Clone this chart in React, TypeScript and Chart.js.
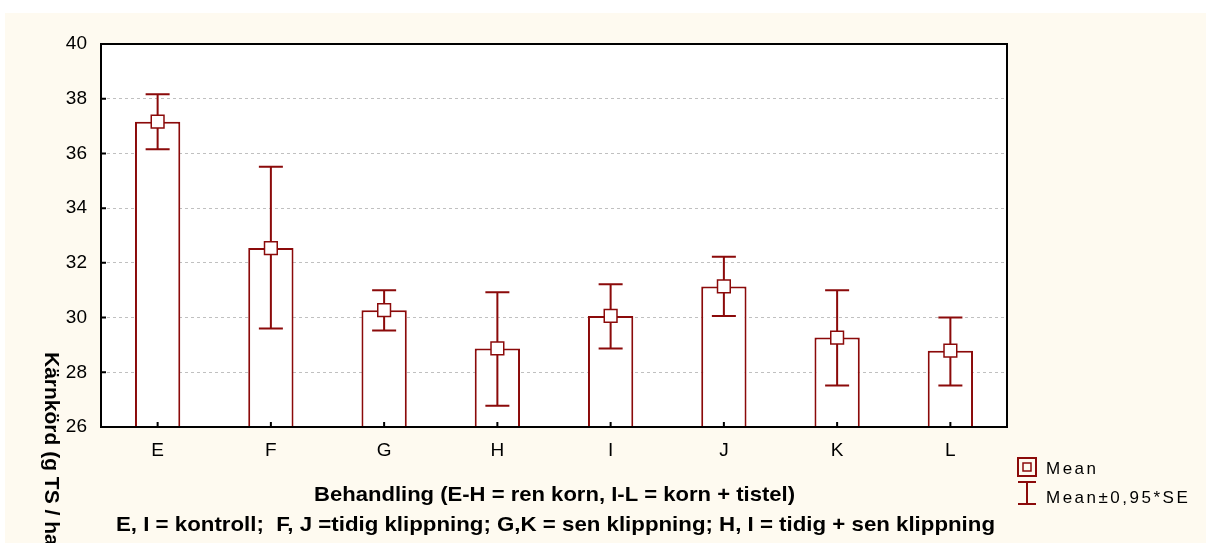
import React, { useEffect, useRef } from "react";
import { Chart, registerables } from "chart.js";

Chart.register(...registerables);

const categories = ["E", "F", "G", "H", "I", "J", "K", "L"];
const means = [37.16, 32.54, 30.27, 28.87, 30.06, 31.14, 29.27, 28.79];
const upper = [38.16, 35.51, 31.0, 30.93, 31.22, 32.22, 31.0, 30.0];
const lower = [36.15, 29.6, 29.53, 26.78, 28.87, 30.06, 27.52, 27.52];
const yMin = 26;
const yMax = 40;
const yStep = 2;

const yTitle = "Kärnkörd (g TS / ha)";
const xTitle1 = "Behandling (E-H = ren korn, I-L = korn + tistel)";
const xTitle2 =
  "E, I = kontroll;  F, J =tidig klippning; G,K = sen klippning; H, I = tidig + sen klippning";
const legendMean = "Mean";
const legendErr = "Mean±0,95*SE";

const RED = "#8b0a0a";
const CREAM = "#fefaf0";
const FONT = "'Liberation Sans', Arial, sans-serif";

const customPlugin = {
  id: "custom",
  beforeDraw(chart: any) {
    const { ctx, chartArea } = chart;
    ctx.save();
    ctx.fillStyle = "#ffffff";
    ctx.fillRect(0, 0, chart.width, chart.height);
    ctx.fillStyle = CREAM;
    ctx.fillRect(5, 13, chart.width - 5, chart.height - 13);
    ctx.fillStyle = "#ffffff";
    ctx.fillRect(chartArea.left, chartArea.top, chartArea.right - chartArea.left, chartArea.bottom - chartArea.top);
    ctx.restore();
  },
  afterDatasetDraw(chart: any, args: any) {
    if (args.meta.type !== "bar") return;
    const { ctx } = chart;
    const xs = chart.scales.x;
    const ys = chart.scales.y;
    ctx.save();
    ctx.strokeStyle = RED;
    ctx.lineWidth = 2;
    categories.forEach((_, i) => {
      const x = xs.getPixelForValue(i);
      const yu = ys.getPixelForValue(upper[i]);
      const yl = ys.getPixelForValue(lower[i]);
      ctx.beginPath();
      ctx.moveTo(x, yu);
      ctx.lineTo(x, yl);
      ctx.moveTo(x - 12, yu);
      ctx.lineTo(x + 12, yu);
      ctx.moveTo(x - 12, yl);
      ctx.lineTo(x + 12, yl);
      ctx.stroke();
    });
    ctx.restore();
  },
  afterDraw(chart: any) {
    const { ctx, chartArea } = chart;
    const xs = chart.scales.x;
    const ys = chart.scales.y;
    ctx.save();
    // plot box
    ctx.strokeStyle = "#000";
    ctx.lineWidth = 2;
    ctx.strokeRect(chartArea.left, chartArea.top, chartArea.right - chartArea.left, chartArea.bottom - chartArea.top);
    // inward ticks
    ctx.beginPath();
    ys.ticks.forEach((t: any) => {
      const y = ys.getPixelForValue(t.value);
      ctx.moveTo(chartArea.left, y);
      ctx.lineTo(chartArea.left + 5, y);
    });
    categories.forEach((_, i) => {
      const x = xs.getPixelForValue(i);
      ctx.moveTo(x, chartArea.bottom);
      ctx.lineTo(x, chartArea.bottom - 5);
    });
    ctx.stroke();

    // y title (rotated clockwise)
    ctx.fillStyle = "#000";
    ctx.font = `bold 21px ${FONT}`;
    ctx.save();
    ctx.translate(45, 352);
    ctx.rotate(Math.PI / 2);
    ctx.textAlign = "left";
    ctx.textBaseline = "alphabetic";
    ctx.fillText(yTitle, 0, 0);
    ctx.restore();

    // x titles
    const drawFit = (text: string, cx: number, cy: number, w: number) => {
      ctx.save();
      ctx.font = `bold 21px ${FONT}`;
      const m = ctx.measureText(text).width;
      const s = w / m;
      ctx.translate(cx, cy);
      ctx.scale(s, 1);
      ctx.textAlign = "center";
      ctx.textBaseline = "middle";
      ctx.fillText(text, 0, 0);
      ctx.restore();
    };
    drawFit(xTitle1, 554.5, 495, 481);
    drawFit(xTitle2, 555.5, 525, 879);

    // legend
    ctx.strokeStyle = RED;
    ctx.lineWidth = 2;
    ctx.strokeRect(1018, 458, 18, 18);
    ctx.lineWidth = 1.5;
    ctx.strokeRect(1023, 463, 8, 8);
    ctx.lineWidth = 2;
    ctx.beginPath();
    ctx.moveTo(1018, 482);
    ctx.lineTo(1036, 482);
    ctx.moveTo(1027, 482);
    ctx.lineTo(1027, 504);
    ctx.moveTo(1018, 504);
    ctx.lineTo(1036, 504);
    ctx.stroke();
    ctx.fillStyle = "#000";
    ctx.font = `17px ${FONT}`;
    ctx.textAlign = "left";
    ctx.textBaseline = "alphabetic";
    (ctx as any).letterSpacing = "2.5px";
    ctx.fillText(legendMean, 1046, 474);
    ctx.fillText(legendErr, 1046, 503);
    (ctx as any).letterSpacing = "0px";
    ctx.restore();
  },
};

export default function App() {
  const ref = useRef<HTMLCanvasElement>(null);
  useEffect(() => {
    if (!ref.current) return;
    const chart = new Chart(ref.current, {
      type: "bar",
      data: {
        labels: categories,
        datasets: [
          {
            type: "line",
            label: "Mean",
            data: means,
            showLine: false,
            pointStyle: "rect",
            pointRadius: 9,
            pointHoverRadius: 9,
            pointBackgroundColor: "#ffffff",
            pointBorderColor: RED,
            pointBorderWidth: 1.5,
            order: 0,
          } as any,
          {
            type: "bar",
            label: "Bars",
            data: means,
            base: yMin,
            backgroundColor: "#ffffff",
            borderColor: RED,
            borderWidth: 2,
            barPercentage: 0.4,
            categoryPercentage: 1,
            order: 1,
          } as any,
        ],
      },
      options: {
        responsive: false,
        animation: false,
        events: [],
        layout: { padding: { top: 44, right: 199, left: 0, bottom: 0 } },
        plugins: { legend: { display: false }, tooltip: { enabled: false } },
        scales: {
          x: {
            offset: true,
            grid: { display: false, drawTicks: false },
            border: { display: false },
            ticks: { color: "#000", font: { family: FONT, size: 19 }, padding: 12 },
            afterFit: (s: any) => {
              s.height = 116;
            },
          },
          y: {
            min: yMin,
            max: yMax,
            grid: { color: "#c0c0c0", lineWidth: 1, drawTicks: false },
            border: { display: false, dash: [3, 3] },
            ticks: { stepSize: yStep, color: "#000", font: { family: FONT, size: 19 }, padding: 14 },
            afterFit: (s: any) => {
              s.width = 101;
            },
          },
        },
      } as any,
      plugins: [customPlugin],
    });
    return () => chart.destroy();
  }, []);
  return (
    <div style={{ position: "absolute", left: 0, top: 0, width: 1206, height: 543 }}>
      <canvas ref={ref} width={1206} height={543} style={{ display: "block" }} />
    </div>
  );
}
